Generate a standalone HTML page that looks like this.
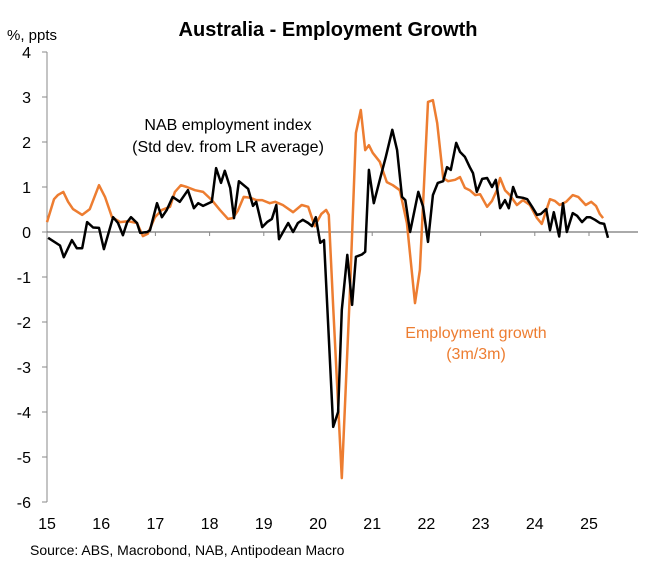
<!DOCTYPE html>
<html><head><meta charset="utf-8"><style>
body{margin:0;background:#fff;width:649px;height:567px;overflow:hidden;font-family:"Liberation Sans",Arial,sans-serif}
</style></head><body>
<svg id="chart" width="649" height="567" xmlns="http://www.w3.org/2000/svg" font-family="Liberation Sans, Arial, sans-serif">
<text x="328" y="36" text-anchor="middle" font-size="20" font-weight="bold">Australia - Employment Growth</text>
<text x="7" y="40" font-size="15">%, ppts</text>
<g id="axes"></g>
<g id="series"></g>
<text x="228" y="130" text-anchor="middle" font-size="16">NAB employment index</text>
<text x="228" y="152" text-anchor="middle" font-size="16">(Std dev. from LR average)</text>
<text x="476" y="338" text-anchor="middle" font-size="16" fill="#ED7D31">Employment growth</text>
<text x="476" y="359" text-anchor="middle" font-size="16" fill="#ED7D31">(3m/3m)</text>
<text x="30" y="555" font-size="14">Source: ABS, Macrobond, NAB, Antipodean Macro</text>
</svg>
<script>
const yTicks=[4,3,2,1,0,-1,-2,-3,-4,-5,-6];
const xYears=[15,16,17,18,19,20,21,22,23,24,25];
const nabT=[15.02,15.24,15.31,15.46,15.55,15.65,15.74,15.85,15.96,16.05,16.22,16.31,16.40,16.48,16.55,16.66,16.72,16.85,16.90,17.03,17.12,17.21,17.32,17.45,17.60,17.71,17.79,17.88,18.04,18.12,18.21,18.28,18.38,18.45,18.54,18.71,18.80,18.86,18.97,19.06,19.15,19.23,19.28,19.39,19.45,19.54,19.63,19.72,19.82,19.89,19.96,20.04,20.11,20.28,20.37,20.44,20.54,20.63,20.70,20.81,20.87,20.94,21.03,21.14,21.25,21.37,21.46,21.55,21.61,21.70,21.85,21.94,22.03,22.12,22.21,22.31,22.38,22.45,22.55,22.62,22.71,22.80,22.86,22.93,23.03,23.12,23.21,23.28,23.36,23.45,23.52,23.60,23.67,23.78,23.86,23.95,24.04,24.11,24.21,24.28,24.35,24.45,24.52,24.59,24.70,24.78,24.87,24.96,25.02,25.11,25.20,25.28,25.35];
const nabV=[-0.13,-0.3,-0.56,-0.18,-0.36,-0.36,0.22,0.1,0.09,-0.38,0.33,0.2,-0.07,0.22,0.33,0.2,-0.02,0,0.04,0.64,0.33,0.49,0.78,0.67,0.93,0.53,0.64,0.58,0.67,1.42,1.09,1.36,0.98,0.31,1.13,0.96,0.58,0.67,0.11,0.22,0.29,0.6,-0.16,0.07,0.2,0,0.2,0.27,0.2,0.13,0.33,-0.24,-0.18,-4.33,-4.0,-1.73,-0.51,-1.62,-0.55,-0.5,-0.44,1.38,0.64,1.16,1.67,2.27,1.82,0.78,0.71,0.0,0.89,0.56,-0.22,0.82,1.09,1.13,1.44,1.38,1.98,1.78,1.67,1.44,1.31,0.89,1.18,1.2,1.0,1.16,0.53,0.71,0.53,1.0,0.78,0.76,0.73,0.56,0.38,0.4,0.51,0.04,0.44,-0.1,0.64,0,0.42,0.36,0.22,0.33,0.33,0.27,0.2,0.18,-0.13];
const empT=[15.0,15.13,15.2,15.3,15.39,15.48,15.65,15.79,15.96,16.07,16.2,16.35,16.49,16.66,16.77,16.86,16.99,17.12,17.27,17.36,17.47,17.58,17.73,17.88,18.04,18.19,18.34,18.43,18.52,18.63,18.75,18.86,18.97,19.11,19.21,19.35,19.54,19.70,19.82,19.94,20.06,20.15,20.2,20.28,20.44,20.59,20.70,20.79,20.87,20.94,21.01,21.14,21.27,21.38,21.51,21.64,21.79,21.88,22.03,22.12,22.2,22.31,22.4,22.53,22.62,22.71,22.8,22.9,22.99,23.12,23.21,23.3,23.36,23.45,23.54,23.67,23.78,23.91,24.04,24.13,24.28,24.37,24.46,24.58,24.7,24.8,24.94,25.04,25.13,25.2,25.26];
const empV=[0.22,0.73,0.82,0.89,0.67,0.51,0.38,0.51,1.04,0.78,0.33,0.22,0.24,0.2,-0.09,-0.04,0.33,0.49,0.56,0.89,1.04,1.0,0.93,0.89,0.71,0.49,0.29,0.31,0.47,0.78,0.76,0.71,0.71,0.64,0.67,0.6,0.44,0.6,0.56,0.13,0.40,0.49,0.38,-1.67,-5.47,-1.29,2.2,2.71,1.82,1.93,1.76,1.56,1.11,1.04,0.93,0.2,-1.58,-0.84,2.89,2.93,2.42,1.2,1.13,1.16,1.22,0.98,0.93,0.82,0.84,0.56,0.69,0.93,1.2,0.93,0.82,0.6,0.71,0.6,0.31,0.18,0.73,0.69,0.6,0.67,0.82,0.78,0.6,0.67,0.58,0.4,0.31];
const NS="http://www.w3.org/2000/svg";
const X0=47,PXY=54.2,Y0=232,PXU=45;
function sx(t){return X0+(t-15)*PXY;}
function sy(v){return Y0-v*PXU;}
function mk(tag,attrs,parent){const e=document.createElementNS(NS,tag);for(const k in attrs)e.setAttribute(k,attrs[k]);parent.appendChild(e);return e;}
const axes=document.getElementById('axes');
const ya=mk('line',{x1:X0,x2:X0,y1:sy(4),y2:sy(-6),stroke:'#888','stroke-width':1},axes);


yTicks.forEach(v=>{
  const tk=mk('line',{x1:X0-5,x2:X0,y1:sy(v),y2:sy(v),stroke:'#888'},axes);
  
  
  const tx=mk('text',{x:31,y:sy(v)+6,'text-anchor':'end','font-size':16},axes);
  tx.textContent=v;
  
  
});
const xa=mk('line',{x1:X0,x2:638,y1:Y0,y2:Y0,stroke:'#555','stroke-width':1},axes);


xYears.forEach(y=>{
  const tk=mk('line',{x1:sx(y),x2:sx(y),y1:Y0,y2:Y0+4,stroke:'#888'},axes);
  
  
  const tx=mk('text',{x:sx(y),y:529,'text-anchor':'middle','font-size':16},axes);
  tx.textContent=y;
  
  
});
const ser=document.getElementById('series');
function path(T,V){return T.map((t,i)=>(i?'L':'M')+sx(t).toFixed(1)+' '+sy(V[i]).toFixed(1)).join(' ');}
const pe=mk('path',{d:path(empT,empV),fill:'none',stroke:'#ED7D31','stroke-width':2.5,'stroke-linejoin':'round'},ser);


const pn=mk('path',{d:path(nabT,nabV),fill:'none',stroke:'#000','stroke-width':2.5,'stroke-linejoin':'round'},ser);


</script>
</body></html>
